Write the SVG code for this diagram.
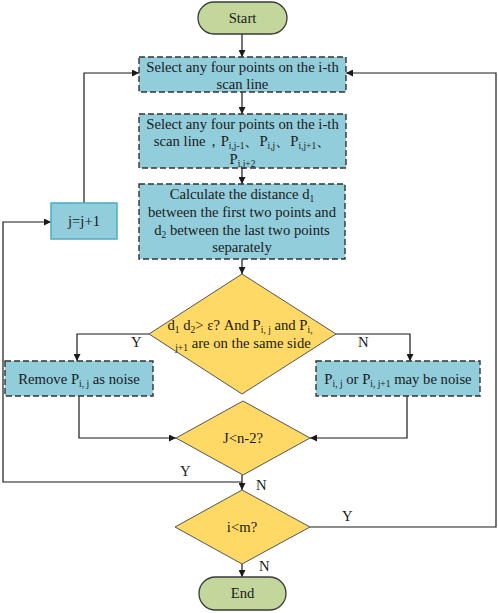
<svg xmlns="http://www.w3.org/2000/svg" width="498" height="613" viewBox="0 0 498 613">
<style>
text{font-family:"Liberation Serif","Times New Roman",serif;font-size:14.7px;fill:#1a1a1a;text-anchor:middle}
.sub{font-size:9.5px}
.term{fill:#c3d69b;stroke:#3a3a3a;stroke-width:1.3}
.proc{fill:#92cddc;stroke:#333;stroke-width:1.4;stroke-dasharray:6,3}
.plain{fill:#92cddc;stroke:#4bacc6;stroke-width:1.5}
.dec{fill:#ffd966;stroke:#555;stroke-width:1}
.ln{fill:none;stroke:#1a1a1a;stroke-width:1.2}
.lbl{text-anchor:start}
</style>
<defs>
<marker id="ah" viewBox="0 0 10 10" refX="10" refY="5" markerWidth="7" markerHeight="7" markerUnits="userSpaceOnUse" orient="auto">
<path d="M0,0 L10,5 L0,10 z" fill="#1a1a1a"/>
</marker>
</defs>
<g id="connectors">
<path class="ln" d="M242,34 V57" marker-end="url(#ah)"/>
<path class="ln" d="M242,92 V114" marker-end="url(#ah)"/>
<path class="ln" d="M242,168 V184" marker-end="url(#ah)"/>
<path class="ln" d="M242,259 V274" marker-end="url(#ah)"/>
<path class="ln" d="M149,334 H77 V361" marker-end="url(#ah)"/>
<path class="ln" d="M336,334 H410 V361" marker-end="url(#ah)"/>
<path class="ln" d="M79,396 V438 H176" marker-end="url(#ah)"/>
<path class="ln" d="M407,396 V438 H310" marker-end="url(#ah)"/>
<path class="ln" d="M242,475 V490" marker-end="url(#ah)"/>
<path class="ln" d="M242,482 H3 V222 H51" marker-end="url(#ah)"/>
<path class="ln" d="M84,203 V73 H139" marker-end="url(#ah)"/>
<path class="ln" d="M310,527 H496 V73 H346" marker-end="url(#ah)"/>
<path class="ln" d="M242,564 V577" marker-end="url(#ah)"/>
<text class="lbl" x="131" y="347">Y</text>
<text class="lbl" x="358" y="347">N</text>
<text class="lbl" x="180" y="476">Y</text>
<text class="lbl" x="256" y="490">N</text>
<text class="lbl" x="342" y="521">Y</text>
<text class="lbl" x="259" y="571">N</text>
</g>
<g id="start">
<rect class="term" x="198" y="2" width="89" height="32" rx="16"/>
<text x="242.5" y="23">Start</text>
</g>
<g id="select1">
<rect class="proc" x="139" y="57" width="207" height="35"/>
<text x="242.5" y="72">Select any four points on the i-th</text>
<text x="242.5" y="89">scan line</text>
</g>
<g id="select2">
<rect class="proc" x="139" y="114" width="207" height="54"/>
<text x="242.5" y="129">Select any four points on the i-th</text>
<text x="242.5" y="146">scan line，P<tspan class="sub" dy="2.5">i,j-1</tspan><tspan dy="-2.5">、P</tspan><tspan class="sub" dy="2.5">i,j</tspan><tspan dy="-2.5">、P</tspan><tspan class="sub" dy="2.5">i,j+1</tspan><tspan dy="-2.5">、</tspan></text>
<text x="242.5" y="164">P<tspan class="sub" dy="2.5">i,j+2</tspan></text>
</g>
<g id="calc">
<rect class="proc" x="139" y="184" width="206" height="75"/>
<text x="242" y="199">Calculate the distance d<tspan class="sub" dy="3">1</tspan></text>
<text x="242" y="217">between the first two points and</text>
<text x="242" y="235">d<tspan class="sub" dy="3">2</tspan><tspan dy="-3"> between the last two points</tspan></text>
<text x="242" y="252">separately</text>
</g>
<g id="jinc">
<rect class="plain" x="51" y="203" width="66" height="36"/>
<text x="84" y="226">j=j+1</text>
</g>
<g id="cond1">
<path class="dec" d="M242,274 L336,334 L242,394 L149,334 Z"/>
<text x="240" y="330">d<tspan class="sub" dy="3">1</tspan><tspan dy="-3"> d</tspan><tspan class="sub" dy="3">2</tspan><tspan dy="-3">&gt; ε? And P</tspan><tspan class="sub" dy="3">i, j</tspan><tspan dy="-3"> and P</tspan><tspan class="sub" dy="3">i,</tspan></text>
<text x="243" y="348"><tspan class="sub" dy="3">j+1</tspan><tspan dy="-3"> are on the same side</tspan></text>
</g>
<g id="remove">
<rect class="proc" x="5" y="361" width="148" height="35"/>
<text x="79" y="384">Remove P<tspan class="sub" dy="3">i, j</tspan><tspan dy="-3"> as noise</tspan></text>
</g>
<g id="maybe">
<rect class="proc" x="316" y="361" width="164" height="35"/>
<text x="398" y="384">P<tspan class="sub" dy="3">i, j</tspan><tspan dy="-3"> or P</tspan><tspan class="sub" dy="3">i, j+1</tspan><tspan dy="-3"> may be noise</tspan></text>
</g>
<g id="cond2">
<path class="dec" d="M243,401 L310,438 L243,475 L176,438 Z"/>
<text x="243" y="443">J&lt;n-2?</text>
</g>
<g id="cond3">
<path class="dec" d="M242,490 L310,527 L242,564 L175,527 Z"/>
<text x="242" y="532">i&lt;m?</text>
</g>
<g id="end">
<rect class="term" x="199" y="577" width="87" height="33" rx="16.5"/>
<text x="242.5" y="598">End</text>
</g>
</svg>
